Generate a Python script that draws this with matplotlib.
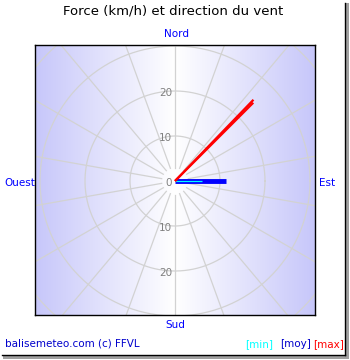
import matplotlib
matplotlib.use('Agg')
import matplotlib.pyplot as plt
import numpy as np
from matplotlib.patches import Rectangle

# wind data (km/h, direction in degrees from north)
max_dir = [44, 45]
max_speed = [25.1, 24.6]
moy_dir = [90]
moy_speed = [11.3]
min_dir = [90]
min_speed = [6.0]

rings = [10, 20, 30, 40]
ring_labels = [0, 10, 20]
spoke_dirs = np.arange(0, 360, 20)

title = 'Force (km/h) et direction du vent'
footer = 'balisemeteo.com (c) FFVL'

W, H = 350, 360
fig = plt.figure(figsize=(W / 100, H / 100), dpi=100)
fig.patch.set_facecolor('white')

# frame with shadow
fig.patches.append(Rectangle((3 / W, 1 - 359 / H), 346 / W, 356 / H, transform=fig.transFigure,
                             facecolor='#a0a0a0', edgecolor='none', zorder=-3))
fig.patches.append(Rectangle((0, 1 - 355 / H), 345 / W, 355 / H, transform=fig.transFigure,
                             facecolor='white', edgecolor='none', zorder=-2))
fig.lines.append(plt.Line2D([345 / W, 345 / W], [1 - 3 / H, 1 - 355 / H], transform=fig.transFigure,
                            color='black', lw=1, zorder=-1))
fig.lines.append(plt.Line2D([2 / W, 345 / W], [1 - 355 / H, 1 - 355 / H], transform=fig.transFigure,
                            color='black', lw=1, zorder=-1))

# plot box in pixels
x0, x1, y0, y1 = 35, 315, 45, 315
cx, cy = 175, 181
s = 4.5
ax = fig.add_axes([x0 / W, 1 - y1 / H, (x1 - x0) / W, (y1 - y0) / H])
ax.set_zorder(5)
ax.set_xlim((x0 - cx) / s, (x1 - cx) / s)
ax.set_ylim(-(y1 - cy) / s, (cy - y0) / s)
xl = ax.get_xlim()
yl = ax.get_ylim()

# horizontal gradient background
edge = np.array([0.78, 0.78, 0.98])
xs = np.linspace(-1, 1, 300)
t = np.abs(xs)[None, :, None]
grad = 1 - t * (1 - edge)[None, None, :]
ax.imshow(grad, extent=[xl[0], xl[1], yl[0], yl[1]], aspect='auto', zorder=0)

theta = np.linspace(0, 2 * np.pi, 400)
for r in rings:
    ax.plot(r * np.cos(theta), r * np.sin(theta), color='#d2d2d2', lw=0.9, zorder=1)
for d in spoke_dirs:
    a = np.radians(d)
    ax.plot([3 * np.sin(a), 50 * np.sin(a)], [3 * np.cos(a), 50 * np.cos(a)],
            color='#d2d2d2', lw=0.9, zorder=1)

for r in ring_labels:
    ax.text(-0.6, r - 0.45, str(r), ha='right', va='center', color='#808080', fontsize=7.5, zorder=2)
    if r:
        ax.text(-0.6, -r - 0.45, str(r), ha='right', va='center', color='#808080', fontsize=7.5, zorder=2)

for d, v in zip(moy_dir, moy_speed):
    a = np.radians(d)
    ax.plot([0, v * np.sin(a)], [0, v * np.cos(a)], color='#0000ff', lw=3.5,
            solid_capstyle='butt', zorder=3)
for d, v in zip(min_dir, min_speed):
    a = np.radians(d)
    ax.plot([0, v * np.sin(a)], [0, v * np.cos(a)], color='cyan', lw=0.9,
            solid_capstyle='butt', zorder=4)
for d, v in zip(max_dir, max_speed):
    a = np.radians(d)
    ax.plot([0, v * np.sin(a)], [0, v * np.cos(a)], color='red', lw=1.6,
            solid_capstyle='butt', zorder=5)

ax.set_xticks([])
ax.set_yticks([])
for sp in ax.spines.values():
    sp.set_color('black')
    sp.set_linewidth(1)

# texts
fig.text(173 / W, 1 - 11 / H, title, ha='center', va='center', fontsize=9.5, color='black')
fig.text(177 / W, 1 - 34 / H, 'Nord', ha='center', va='center', fontsize=7.5, color='blue')
fig.text(175 / W, 1 - 325 / H, 'Sud', ha='center', va='center', fontsize=7.5, color='blue')
fig.text(327 / W, 1 - 183 / H, 'Est', ha='center', va='center', fontsize=7.5, color='blue')
fig.text(20 / W, 1 - 183 / H, 'Ouest', ha='center', va='center', fontsize=7.5, color='blue')
fig.text(5 / W, 1 - 344 / H, footer, ha='left', va='center', fontsize=7.5, color='#0000cc')
fig.text(245 / W, 1 - 344 / H, '[min]', ha='left', va='center', fontsize=7.5, color='cyan')
fig.text(280 / W, 1 - 344 / H, '[moy]', ha='left', va='center', fontsize=7.5, color='#0000cc')
fig.text(313 / W, 1 - 344 / H, '[max]', ha='left', va='center', fontsize=7.5, color='red')

fig.savefig('out.png', dpi=100)
